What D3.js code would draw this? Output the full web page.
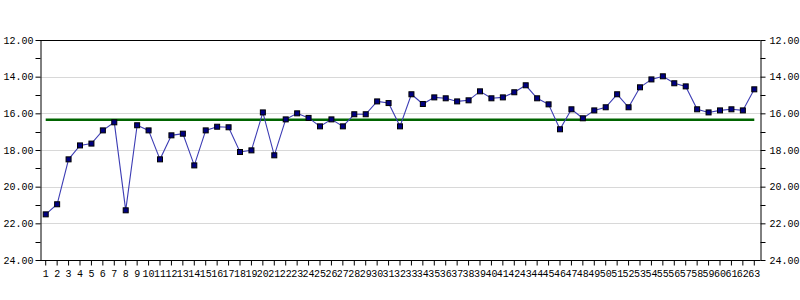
<!DOCTYPE html>
<html>
<head>
<meta charset="utf-8">
<script src="https://cdn.jsdelivr.net/npm/d3@7"></script>
<style>
  html, body { margin: 0; padding: 0; background: #fff; }
  svg { display: block; }
  text { font-family: "Liberation Mono", "DejaVu Sans Mono", monospace; font-size: 10px; fill: #000; }
</style>
</head>
<body>
<svg id="chart" width="800" height="300"></svg>
<script>
const categories = d3.range(1, 64).map(String);
const values = [
  21.51, 20.96, 18.51, 17.75, 17.65, 16.93, 16.49, 21.29, 16.65, 16.93,
  18.51, 17.20, 17.11, 18.84, 16.93, 16.73, 16.76, 18.11, 18.02, 15.95,
  18.29, 16.33, 16.00, 16.25, 16.71, 16.33, 16.71, 16.05, 16.05, 15.35,
  15.44, 16.71, 14.96, 15.49, 15.13, 15.18, 15.35, 15.29, 14.80, 15.18,
  15.13, 14.85, 14.47, 15.18, 15.51, 16.87, 15.78, 16.27, 15.84, 15.67,
  14.96, 15.67, 14.58, 14.15, 13.98, 14.36, 14.53, 15.78, 15.95, 15.84,
  15.78, 15.84, 14.69
];
const averageValue = [16.35];
const yTickValues = [12, 14, 16, 18, 20, 22, 24];
const yMinorTickValues = [13, 15, 17, 19, 21, 23];

(function () {
const svg = d3.select("#chart");
const mL = 40, mR = 760, mT = 40, mB = 260;

const x = d3.scaleBand().domain(categories).range([mL, mR]).padding(0);
const cx = d => x(d) + x.bandwidth() / 2;
const y = d3.scaleLinear().domain([12, 24]).range([mT, mB]);

svg.append("g").selectAll("line")
  .data(yTickValues.filter(v => v !== 12 && v !== 24))
  .join("line")
  .attr("x1", mL).attr("x2", mR)
  .attr("y1", d => Math.round(y(d)) + 0.5).attr("y2", d => Math.round(y(d)) + 0.5)
  .attr("stroke", "#d8d8d8").attr("stroke-width", 1);

svg.append("line").attr("x1", mL).attr("x2", mR + 0.5)
  .attr("y1", mT + 0.5).attr("y2", mT + 0.5).attr("stroke", "#000");

const fmt = d3.format(".2f");
const gL = svg.append("g").attr("transform", `translate(${mL + 0.5},0)`)
  .call(d3.axisLeft(y).tickValues(yTickValues).tickFormat(fmt).tickSize(5).tickPadding(2).tickSizeOuter(0));
gL.append("g").selectAll("line").data(yMinorTickValues).join("line")
  .attr("x1", -5).attr("x2", 0).attr("y1", d => Math.round(y(d)) + 0.5).attr("y2", d => Math.round(y(d)) + 0.5)
  .attr("stroke", "#000");

const gR = svg.append("g").attr("transform", `translate(${mR + 0.5},0)`)
  .call(d3.axisRight(y).tickValues(yTickValues).tickFormat(fmt).tickSize(5).tickPadding(4).tickSizeOuter(0));
gR.append("g").selectAll("line").data(yMinorTickValues).join("line")
  .attr("x1", 0).attr("x2", 5).attr("y1", d => Math.round(y(d)) + 0.5).attr("y2", d => Math.round(y(d)) + 0.5)
  .attr("stroke", "#000");

const gB = svg.append("g").attr("transform", `translate(0,${mB + 0.5})`)
  .call(d3.axisBottom(x).tickSize(5).tickPadding(4).tickSizeOuter(0));
gB.select(".domain").attr("d", `M${mL},0H${mR + 0.5}`);

svg.selectAll(".tick text").style("font-family", '"Liberation Mono", "DejaVu Sans Mono", monospace').style("font-size", "10px");

svg.append("line")
  .attr("x1", cx(categories[0])).attr("x2", cx(categories[categories.length - 1]))
  .attr("y1", y(averageValue[0])).attr("y2", y(averageValue[0]))
  .attr("stroke", "#006400").attr("stroke-width", 2.5);

const data = categories.map((c, i) => ({ c, v: values[i] }));
svg.append("path").datum(data)
  .attr("fill", "none").attr("stroke", "#3c3cb4").attr("stroke-width", 1.1)
  .attr("d", d3.line().x(d => cx(d.c)).y(d => y(d.v)));

svg.append("g").selectAll("rect").data(data).join("rect")
  .attr("x", d => cx(d.c) - 2.5).attr("y", d => y(d.v) - 2.5)
  .attr("width", 5).attr("height", 5)
  .attr("fill", "#000080").attr("stroke", "#000").attr("stroke-width", 1);
})();
</script>
</body>
</html>
